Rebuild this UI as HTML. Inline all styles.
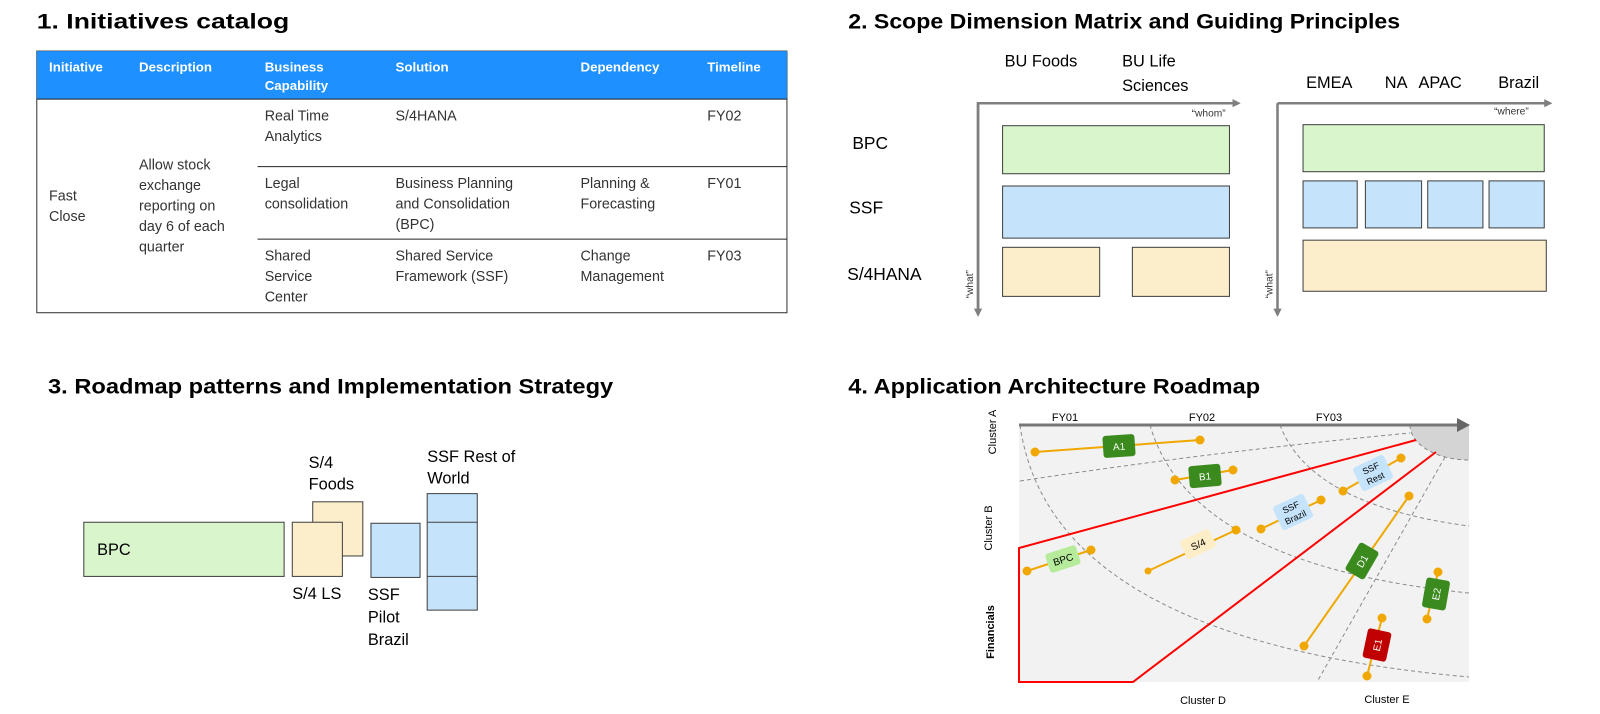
<!DOCTYPE html>
<html><head><meta charset="utf-8"><style>
html,body{margin:0;padding:0;background:#fff;}
svg{display:block;font-family:"Liberation Sans",Arial,sans-serif;}
</style></head><body>
<svg width="1600" height="714" viewBox="0 0 1600 714" xmlns="http://www.w3.org/2000/svg">
<defs>
<marker id="ah" markerWidth="8" markerHeight="8" refX="6" refY="4" orient="auto" markerUnits="userSpaceOnUse"><path d="M0,0 L8,4 L0,8 z" fill="#7f7f7f"/></marker>
</defs>
<g transform="scale(1.022)">
<!-- Titles -->
<text x="36" y="28" font-size="21" font-weight="bold" fill="#000" textLength="247" lengthAdjust="spacingAndGlyphs">1. Initiatives catalog</text>
<text x="830" y="28" font-size="21" font-weight="bold" fill="#000" textLength="540" lengthAdjust="spacingAndGlyphs">2. Scope Dimension Matrix and Guiding Principles</text>
<text x="47" y="385" font-size="21" font-weight="bold" fill="#000" textLength="553" lengthAdjust="spacingAndGlyphs">3. Roadmap patterns and Implementation Strategy</text>
<!-- Section 1 table -->
<rect x="36" y="50" width="734" height="256" fill="#fff" stroke="#333" stroke-width="1"/>
<rect x="36" y="50" width="734" height="47" fill="#1e90ff"/>
<line x1="36" y1="97" x2="770" y2="97" stroke="#222" stroke-width="1"/>
<line x1="252" y1="163" x2="770" y2="163" stroke="#222" stroke-width="1"/>
<line x1="252" y1="234" x2="770" y2="234" stroke="#222" stroke-width="1"/>
<g font-size="13" font-weight="bold" fill="#fff">
<text x="48" y="70">Initiative</text>
<text x="136" y="70">Description</text>
<text x="259" y="70">Business</text><text x="259" y="88">Capability</text>
<text x="387" y="70">Solution</text>
<text x="568" y="70">Dependency</text>
<text x="692" y="70">Timeline</text>
</g>
<g font-size="14" fill="#333">
<text x="48" y="196">Fast</text><text x="48" y="216">Close</text>
<text x="136" y="166">Allow stock</text><text x="136" y="186">exchange</text><text x="136" y="206">reporting on</text><text x="136" y="226">day 6 of each</text><text x="136" y="246">quarter</text>
<text x="259" y="118">Real Time</text><text x="259" y="138">Analytics</text>
<text x="387" y="118">S/4HANA</text>
<text x="692" y="118">FY02</text>
<text x="259" y="184">Legal</text><text x="259" y="204">consolidation</text>
<text x="387" y="184">Business Planning</text><text x="387" y="204">and Consolidation</text><text x="387" y="224">(BPC)</text>
<text x="568" y="184">Planning &amp;</text><text x="568" y="204">Forecasting</text>
<text x="692" y="184">FY01</text>
<text x="259" y="255">Shared</text><text x="259" y="275">Service</text><text x="259" y="295">Center</text>
<text x="387" y="255">Shared Service</text><text x="387" y="275">Framework (SSF)</text>
<text x="568" y="255">Change</text><text x="568" y="275">Management</text>
<text x="692" y="255">FY03</text>
</g>
<!-- Section 2 -->
<g font-size="16" fill="#000">
<text x="983" y="65">BU Foods</text>
<text x="1098" y="65">BU Life</text><text x="1098" y="89">Sciences</text>
<text x="1278" y="86">EMEA</text><text x="1355" y="86">NA</text><text x="1388" y="86">APAC</text><text x="1466" y="86">Brazil</text>
</g>
<g font-size="17" fill="#000">
<text x="834" y="146">BPC</text>
<text x="831" y="209">SSF</text>
<text x="829" y="274">S/4HANA</text>
</g>
<g stroke="#7f7f7f" stroke-width="2.5" fill="none">
<polyline points="957,306 957,101 1212,101" marker-end="url(#ah)"/>
<line x1="957" y1="101" x2="957" y2="308" marker-end="url(#ah)"/>
<line x1="1250" y1="101" x2="1517" y2="101" marker-end="url(#ah)"/>
<line x1="1250" y1="101" x2="1250" y2="308" marker-end="url(#ah)"/>
</g>
<g font-size="10" fill="#333">
<text x="1166" y="114">“whom”</text>
<text x="1462" y="112">“where”</text>
<text transform="translate(952,292) rotate(-90)">“what”</text>
<text transform="translate(1245,292) rotate(-90)">“what”</text>
</g>
<g stroke="#404040" stroke-width="1">
<rect x="981" y="123" width="222" height="47" fill="#d9f5cc"/>
<rect x="981" y="182" width="222" height="51" fill="#c5e4fb"/>
<rect x="981" y="242" width="95" height="48" fill="#fdeecb"/>
<rect x="1108" y="242" width="95" height="48" fill="#fdeecb"/>
<rect x="1275" y="122" width="236" height="46" fill="#d9f5cc"/>
<rect x="1275" y="177" width="53" height="46" fill="#c5e4fb"/>
<rect x="1336" y="177" width="55" height="46" fill="#c5e4fb"/>
<rect x="1397" y="177" width="54" height="46" fill="#c5e4fb"/>
<rect x="1457" y="177" width="54" height="46" fill="#c5e4fb"/>
<rect x="1275" y="235" width="238" height="50" fill="#fdeecb"/>
</g>
<!-- Section 3 -->
<g stroke="#404040" stroke-width="1">
<rect x="82" y="511" width="196" height="53" fill="#d9f5cc"/>
<rect x="306" y="491" width="49" height="53" fill="#fdeecb"/>
<rect x="286" y="511" width="49" height="53" fill="#fdeecb"/>
<rect x="363" y="512" width="48" height="53" fill="#c5e4fb"/>
<rect x="418" y="483" width="49" height="114" fill="#c5e4fb"/>
<line x1="418" y1="511" x2="467" y2="511"/>
<line x1="418" y1="564" x2="467" y2="564"/>
</g>
<g font-size="16" fill="#000">
<text x="95" y="543">BPC</text>
<text x="302" y="458">S/4</text><text x="302" y="479">Foods</text>
<text x="286" y="586">S/4 LS</text>
<text x="360" y="587">SSF</text><text x="360" y="609">Pilot</text><text x="360" y="631">Brazil</text>
<text x="418" y="452">SSF Rest of</text><text x="418" y="473">World</text>
</g>
<text x="830" y="385" font-size="21" font-weight="bold" fill="#000" textLength="403" lengthAdjust="spacingAndGlyphs">4. Application Architecture Roadmap</text>
</g>
<!-- Section 4 (true coords) -->
<rect x="1019" y="425" width="450" height="257" fill="#f2f2f2"/>
<path d="M1469,425 L1410,425 A59,35 0 0 0 1469,460 Z" fill="#d4d4d4"/>
<g stroke="#8a8a8a" stroke-width="1" stroke-dasharray="4,3" fill="none">
<path d="M1410,425 A59,35 0 0 0 1469,460"/>
<path d="M1020,481 Q1210,452 1410,433"/>
<path d="M1020,425 Q1050,640 1469,677"/>
<path d="M1150,425 Q1190,565 1469,593"/>
<path d="M1280,425 Q1310,505 1469,526"/>
<path d="M1445,457 L1317,682"/>
</g>
<line x1="1019" y1="425" x2="1462" y2="425" stroke="#777" stroke-width="3"/>
<path d="M1457,418 L1470,425 L1457,432 z" fill="#666"/>
<g font-size="11" fill="#000" text-anchor="middle">
<text x="1065" y="421">FY01</text><text x="1202" y="421">FY02</text><text x="1329" y="421">FY03</text>
<text transform="translate(996,432) rotate(-90)">Cluster A</text>
<text transform="translate(992,528) rotate(-90)">Cluster B</text>
<text transform="translate(994,632) rotate(-90)" font-weight="bold">Financials</text>
<text x="1203" y="704">Cluster D</text>
<text x="1387" y="703">Cluster E</text>
</g>
<g stroke="#f00" stroke-width="2" fill="none">
<polyline points="1416,440 1019,548 1019,682 1133,682 1436,452"/>
</g>
<g stroke="#f0a800" stroke-width="2" fill="#f0a800">
<line x1="1035" y1="452" x2="1200" y2="440"/><circle cx="1035" cy="452" r="4.5" stroke="none"/><circle cx="1200" cy="440" r="4.5" stroke="none"/>
<line x1="1175" y1="480" x2="1233" y2="470"/><circle cx="1175" cy="480" r="4.5" stroke="none"/><circle cx="1233" cy="470" r="4.5" stroke="none"/>
<line x1="1027" y1="571" x2="1091" y2="550"/><circle cx="1027" cy="571" r="4.5" stroke="none"/><circle cx="1091" cy="550" r="4.5" stroke="none"/>
<line x1="1148" y1="571" x2="1236" y2="530"/><circle cx="1148" cy="571" r="3.5" stroke="none"/><circle cx="1236" cy="530" r="4.5" stroke="none"/>
<line x1="1261" y1="529" x2="1321" y2="500"/><circle cx="1261" cy="529" r="4.5" stroke="none"/><circle cx="1321" cy="500" r="4.5" stroke="none"/>
<line x1="1343" y1="491" x2="1401" y2="458"/><circle cx="1343" cy="491" r="4.5" stroke="none"/><circle cx="1401" cy="458" r="4.5" stroke="none"/>
<line x1="1304" y1="646" x2="1409" y2="496"/><circle cx="1304" cy="646" r="4.5" stroke="none"/><circle cx="1409" cy="496" r="4.5" stroke="none"/>
<line x1="1367" y1="676" x2="1382" y2="618"/><circle cx="1367" cy="676" r="4.5" stroke="none"/><circle cx="1382" cy="618" r="4.5" stroke="none"/>
<line x1="1427" y1="619" x2="1438" y2="572"/><circle cx="1427" cy="619" r="4.5" stroke="none"/><circle cx="1438" cy="572" r="4.5" stroke="none"/>
</g>
<g font-size="10" text-anchor="middle">
<g transform="translate(1119,446) rotate(-4)"><rect x="-16" y="-11" width="32" height="22" rx="3" fill="#3a8a1e"/><text y="4" fill="#fff">A1</text></g>
<g transform="translate(1205,476) rotate(-5)"><rect x="-16" y="-11" width="32" height="22" rx="3" fill="#3a8a1e"/><text y="4" fill="#fff">B1</text></g>
<g transform="translate(1063,559) rotate(-18)"><rect x="-16" y="-10" width="32" height="20" rx="3" fill="#b5eb9a"/><text y="4" fill="#000">BPC</text></g>
<g transform="translate(1198,544) rotate(-25)"><rect x="-16" y="-10" width="32" height="20" rx="3" fill="#fdeec8"/><text y="4" fill="#000">S/4</text></g>
<g transform="translate(1293,512) rotate(-25)" font-size="9"><rect x="-17" y="-13" width="34" height="26" rx="3" fill="#c5e4fb"/><text y="-2" fill="#000">SSF</text><text y="9" fill="#000">Brazil</text></g>
<g transform="translate(1373,473) rotate(-25)" font-size="9"><rect x="-17" y="-13" width="34" height="26" rx="3" fill="#c5e4fb"/><text y="-2" fill="#000">SSF</text><text y="9" fill="#000">Rest</text></g>
<g transform="translate(1362,561) rotate(-60)"><rect x="-16" y="-11" width="32" height="22" rx="3" fill="#3a8a1e"/><text y="4" fill="#fff">D1</text></g>
<g transform="translate(1377,645) rotate(-78)"><rect x="-15" y="-12" width="30" height="24" rx="3" fill="#c00000"/><text y="4" fill="#fff">E1</text></g>
<g transform="translate(1436,594) rotate(-80)"><rect x="-15" y="-12" width="30" height="24" rx="3" fill="#3a8a1e"/><text y="4" fill="#fff">E2</text></g>
</g>
</svg>
</body></html>
